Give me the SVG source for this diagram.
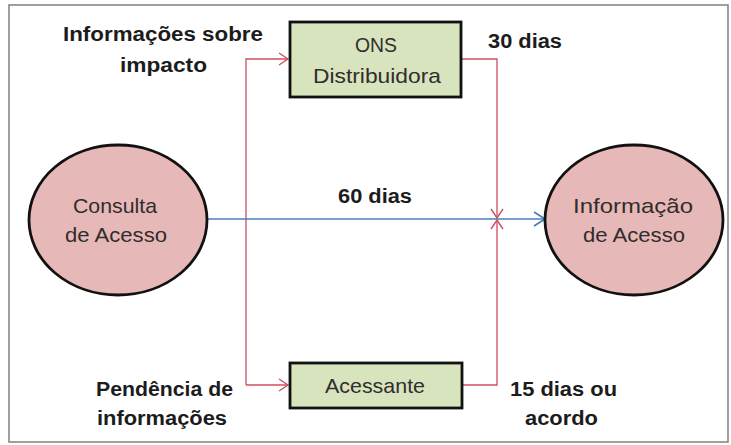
<svg xmlns="http://www.w3.org/2000/svg" width="731" height="445" viewBox="0 0 731 445">
<style>
.lbl{font-family:"Liberation Sans",Arial,sans-serif;font-weight:bold;font-size:20px;fill:#1c1c1c}
.nt{font-family:"Liberation Sans",Arial,sans-serif;font-size:21px;fill:#332c2c;text-anchor:middle}
.ell{fill:#e6b9b8;stroke:#111;stroke-width:2.8}
.box{fill:#d7e4bd;stroke:#111;stroke-width:2.8}
.red{fill:none;stroke:#cc5060;stroke-width:1.3}
.blue{fill:none;stroke:#4a7ebb;stroke-width:1.6}
</style>
<defs>
<marker id="ar" markerUnits="userSpaceOnUse" markerWidth="12" markerHeight="14" refX="10" refY="7" orient="auto">
<path d="M1,1 L10,7 L1,13" fill="none" stroke="#cc5060" stroke-width="1.4"/>
</marker>
<marker id="ab" markerUnits="userSpaceOnUse" markerWidth="14" markerHeight="16" refX="12" refY="8" orient="auto">
<path d="M1,1 L12,8 L1,15" fill="none" stroke="#4a7ebb" stroke-width="1.8"/>
</marker>
</defs>
<rect x="9" y="5" width="719" height="437" fill="#fff" stroke="#808080" stroke-width="1.5"/>
<g id="connectors">
<path class="red" d="M246,385 V59 H288" marker-end="url(#ar)"/>
<path class="red" d="M246,385 H288" marker-end="url(#ar)"/>
<path class="red" d="M461,59 H497 V218" marker-end="url(#ar)"/>
<path class="red" d="M462,385 H497 V220" marker-end="url(#ar)"/>
<path class="blue" d="M207,219 H545" marker-end="url(#ab)"/>
</g>
<g id="consulta">
<ellipse class="ell" cx="118" cy="220" rx="89" ry="75"/>
<text class="nt" x="115" y="213" textLength="84" lengthAdjust="spacingAndGlyphs">Consulta</text>
<text class="nt" x="116" y="242" textLength="102" lengthAdjust="spacingAndGlyphs">de Acesso</text>
</g>
<g id="informacao">
<ellipse class="ell" cx="634" cy="220" rx="89" ry="75"/>
<text class="nt" x="633" y="213" textLength="120" lengthAdjust="spacingAndGlyphs">Informação</text>
<text class="nt" x="634" y="242" textLength="102" lengthAdjust="spacingAndGlyphs">de Acesso</text>
</g>
<g id="ons">
<rect class="box" x="290" y="22" width="171" height="75"/>
<text class="nt" x="376" y="52" textLength="42" lengthAdjust="spacingAndGlyphs">ONS</text>
<text class="nt" x="377" y="83" textLength="128" lengthAdjust="spacingAndGlyphs">Distribuidora</text>
</g>
<g id="acessante">
<rect class="box" x="290" y="363" width="172" height="45"/>
<text class="nt" x="375" y="393" textLength="100" lengthAdjust="spacingAndGlyphs">Acessante</text>
</g>
<g id="labels">
<text class="lbl" x="63" y="41" textLength="200" lengthAdjust="spacingAndGlyphs">Informações sobre</text>
<text class="lbl" x="120" y="72" textLength="87" lengthAdjust="spacingAndGlyphs">impacto</text>
<text class="lbl" x="488" y="48" textLength="74" lengthAdjust="spacingAndGlyphs">30 dias</text>
<text class="lbl" x="338" y="203" textLength="74" lengthAdjust="spacingAndGlyphs">60 dias</text>
<text class="lbl" x="96" y="396" textLength="137" lengthAdjust="spacingAndGlyphs">Pendência de</text>
<text class="lbl" x="97" y="425" textLength="130" lengthAdjust="spacingAndGlyphs">informações</text>
<text class="lbl" x="510" y="396" textLength="107" lengthAdjust="spacingAndGlyphs">15 dias ou</text>
<text class="lbl" x="525" y="425" textLength="73" lengthAdjust="spacingAndGlyphs">acordo</text>
</g>
</svg>
